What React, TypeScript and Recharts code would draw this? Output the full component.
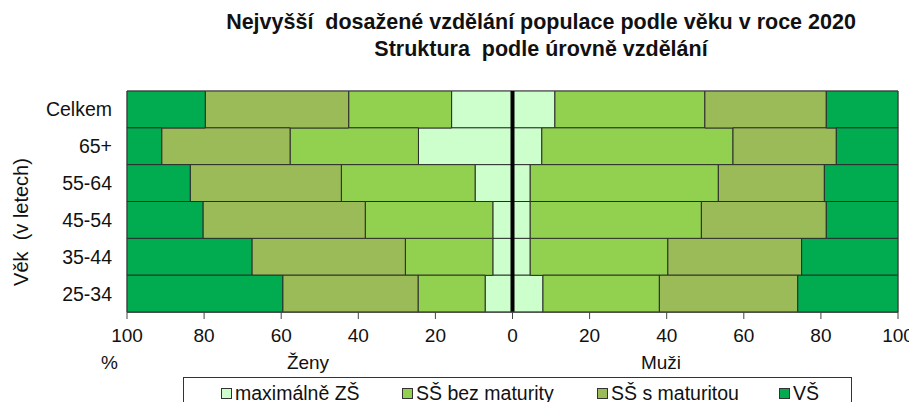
import React from 'react';
import { BarChart, Bar, XAxis, YAxis, ReferenceLine, ReferenceArea } from 'recharts';

const ageGroups = ['Celkem', '65+', '55-64', '45-54', '35-44', '25-34'];
const levels = ['maximálně ZŠ', 'SŠ bez maturity', 'SŠ s maturitou', 'VŠ'];
const colors = ['#CCFFCC', '#92D050', '#9BBB59', '#00AC4F'];

// ženy (left side), percent
const womenZS = [15.8, 24.4, 9.7, 5.1, 5.1, 7.1];
const womenSSbez = [26.7, 33.3, 34.7, 33.1, 22.7, 17.4];
const womenSSmat = [37.2, 33.3, 39.2, 42.1, 39.8, 35.1];
const womenVS = [20.3, 9.0, 16.4, 19.7, 32.4, 40.4];

// muži (right side), percent
const menZS = [11.0, 7.6, 4.6, 4.6, 4.6, 7.9];
const menSSbez = [38.9, 49.6, 48.8, 44.4, 35.7, 30.2];
const menSSmat = [31.5, 26.8, 27.5, 32.4, 34.7, 35.9];
const menVS = [18.6, 16.0, 19.1, 18.6, 25.0, 26.0];

const xTicks = [-100, -80, -60, -40, -20, 0, 20, 40, 60, 80, 100];

const women = [womenZS, womenSSbez, womenSSmat, womenVS];
const men = [menZS, menSSbez, menSSmat, menVS];

const data = ageGroups.map((age, i) => {
  const row: any = { age };
  women.forEach((s, k) => (row['w' + k] = -s[i]));
  men.forEach((s, k) => (row['m' + k] = s[i]));
  return row;
});

const font = "'Liberation Sans', Arial, sans-serif";

export default function App() {
  return (
    <div style={{ position: 'relative', width: 917, height: 410, margin: -8, fontFamily: font, color: '#111', overflow: 'hidden', background: '#fff' }}>
      <div style={{ position: 'absolute', top: 9, left: 141, width: 800, textAlign: 'center', fontWeight: 'bold', fontSize: 21.5, lineHeight: '27px' }}>
        <div>Nejvyšší&nbsp; dosažené vzdělání populace podle věku v roce 2020</div>
        <div>Struktura&nbsp; podle úrovně vzdělání</div>
      </div>

      <div style={{ position: 'absolute', top: 0, left: 0 }}>
        <BarChart
          width={917}
          height={350}
          data={data}
          layout="vertical"
          stackOffset="sign"
          barCategoryGap={0}
          margin={{ top: 91, right: 19, left: 47, bottom: 0 }}
        >
          <ReferenceArea x1={-100} x2={100} fill="none" stroke="#888" />
          <XAxis
            type="number"
            domain={[-100, 100]}
            ticks={xTicks}
            tickFormatter={(v: number) => String(Math.abs(v))}
            axisLine={{ stroke: '#444' }}
            tickLine={{ stroke: '#444' }}
            tickSize={7}
            tickMargin={10}
            height={38}
            tick={{ fontSize: 19, fill: '#111', fontFamily: font }}
          />
          <YAxis
            type="category"
            dataKey="age"
            width={80}
            tickLine={false}
            axisLine={false}
            tickMargin={9}
            tick={{ fontSize: 19.5, fill: '#111', fontFamily: font }}
          />
          {levels.map((name, k) => (
            <Bar key={'w' + k} dataKey={'w' + k} name={name} stackId="a" fill={colors[k]} stroke="#2b2b2b" strokeWidth={1} isAnimationActive={false} />
          ))}
          {levels.map((name, k) => (
            <Bar key={'m' + k} dataKey={'m' + k} name={name} stackId="a" fill={colors[k]} stroke="#2b2b2b" strokeWidth={1} isAnimationActive={false} />
          ))}
          <ReferenceLine x={0} stroke="#000" strokeWidth={4} />
        </BarChart>
      </div>

      <div style={{ position: 'absolute', left: 21, top: 222, transform: 'translate(-50%, -50%) rotate(-90deg)', fontSize: 20, whiteSpace: 'nowrap' }}>
        Věk&nbsp; (v letech)
      </div>

      <div style={{ position: 'absolute', left: 101, top: 353, fontSize: 19, lineHeight: '20px' }}>%</div>
      <div style={{ position: 'absolute', left: 258, width: 100, textAlign: 'center', top: 353, fontSize: 19, lineHeight: '20px' }}>Ženy</div>
      <div style={{ position: 'absolute', left: 611, width: 100, textAlign: 'center', top: 353, fontSize: 19, lineHeight: '20px' }}>Muži</div>

      <div style={{ position: 'absolute', left: 183, top: 377, width: 669, height: 50, border: '1px solid #333', boxSizing: 'border-box' }}>
        {levels.map((name, k) => (
          <div key={name} style={{ position: 'absolute', left: [37, 218, 413, 595][k], top: 5, display: 'flex', alignItems: 'center', fontSize: 19.5, lineHeight: '20px', whiteSpace: 'nowrap' }}>
            <span style={{ display: 'inline-block', width: 9, height: 9, background: colors[k], border: '1px solid #333', marginRight: 3 }} />
            {name}
          </div>
        ))}
      </div>
    </div>
  );
}
